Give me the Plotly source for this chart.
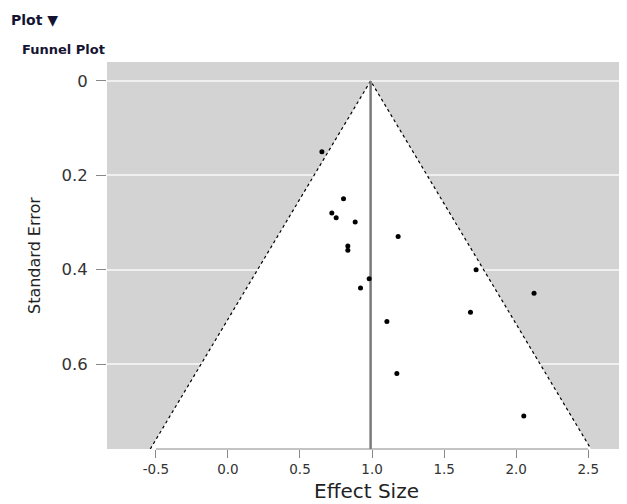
import plotly.graph_objects as go

# Study data (effect size, standard error)
effect = [0.652, 0.802, 0.721, 0.751, 0.883, 1.181, 0.832, 0.832, 0.980, 0.920,
          1.722, 2.124, 1.683, 1.103, 1.172, 2.053]
se = [0.150, 0.250, 0.280, 0.290, 0.299, 0.330, 0.350, 0.359, 0.419, 0.439,
      0.400, 0.450, 0.490, 0.510, 0.620, 0.710]

center = 0.99
se_max = 0.78
z = 1.96

x_ticks = [-0.5, 0.0, 0.5, 1.0, 1.5, 2.0, 2.5]
x_labels = ["-0.5", "0.0", "0.5", "1.0", "1.5", "2.0", "2.5"]
y_ticks = [0, 0.2, 0.4, 0.6]
y_labels = ["0", "0.2", "0.4", "0.6"]

lo = center - z * se_max
hi = center + z * se_max

fig = go.Figure()
# white funnel region
fig.add_trace(go.Scatter(x=[lo, center, hi, lo], y=[se_max, 0, se_max, se_max],
                         fill="toself", fillcolor="white", mode="none",
                         hoverinfo="skip", showlegend=False))
# funnel dotted lines
fig.add_trace(go.Scatter(x=[lo, center, hi], y=[se_max, 0, se_max], mode="lines",
                         line=dict(color="black", width=1.2, dash="dot"),
                         hoverinfo="skip", showlegend=False))
# vertical line at summary effect
fig.add_trace(go.Scatter(x=[center, center], y=[0, se_max + 0.01], mode="lines",
                         line=dict(color="#7a7a7a", width=2.5),
                         hoverinfo="skip", showlegend=False))
# studies
fig.add_trace(go.Scatter(x=effect, y=se, mode="markers",
                         marker=dict(color="black", size=5),
                         showlegend=False))

font_family = "DejaVu Sans, Arial, sans-serif"

# R-style x axis line spanning first to last tick
fig.add_shape(type="line", xref="x", yref="paper", x0=x_ticks[0], x1=x_ticks[-1],
              y0=0, y1=0, line=dict(color="#888888", width=1))

# The page body has an 8px default margin; figure is sized to fit the window.
W, H = 619, 496
L, T, B = 99, 54, 55
PW, PH = W - L, H - T - B


def px(X):  # window pixel x -> paper x
    return (X - 8 - L) / PW


def py(Y):  # window pixel y -> paper y
    return (H - B - (Y - 8)) / PH


fig.update_layout(
    width=W, height=H,
    margin=dict(l=L, r=0, t=T, b=B),
    paper_bgcolor="white",
    plot_bgcolor="#d3d3d3",
    font=dict(family=font_family, color="#333333"),
    xaxis=dict(range=[-0.839, 2.769], tickvals=x_ticks, ticktext=x_labels,
               showgrid=False, zeroline=False, showline=False,
               ticks="outside", ticklen=8, tickcolor="#888888",
               tickfont=dict(size=13.5, color="#333333")),
    yaxis=dict(range=[0.780, -0.040], tickvals=y_ticks, ticktext=y_labels,
               showgrid=True, gridcolor="#f0f0f0", gridwidth=1.5,
               zeroline=False, showline=False,
               ticks="outside", ticklen=10, tickcolor="#888888",
               ticklabelstandoff=5,
               tickfont=dict(size=16.5, color="#333333")),
    annotations=[
        dict(text="<b>Plot ▼</b>", xref="paper", yref="paper",
             x=px(9), y=py(20), xanchor="left", yanchor="middle",
             showarrow=False, font=dict(size=14, color="#141432", family=font_family)),
        dict(text="<b>Funnel Plot</b>", xref="paper", yref="paper",
             x=px(20), y=py(49.5), xanchor="left", yanchor="middle",
             showarrow=False, font=dict(size=13, color="#141432", family=font_family)),
        dict(text="Effect Size", xref="paper", yref="paper",
             x=px(366), y=py(491), xanchor="center", yanchor="middle",
             showarrow=False, font=dict(size=20, color="#222222", family=font_family)),
        dict(text="Standard Error", xref="paper", yref="paper", textangle=-90,
             x=px(35), y=py(256), xanchor="center", yanchor="middle",
             showarrow=False, font=dict(size=16, color="#222222", family=font_family)),
    ],
)

fig.write_html("out.html")
